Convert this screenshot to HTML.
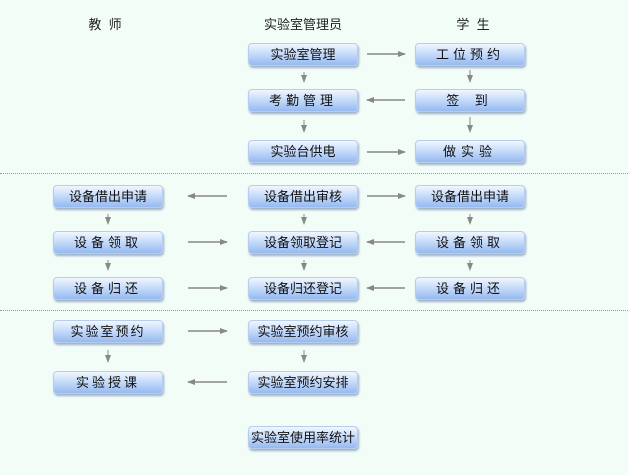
<!DOCTYPE html>
<html><head><meta charset="utf-8"><style>
body{margin:0;width:628px;height:475px;background:#f3fdf8;position:relative;overflow:hidden;font-family:"Liberation Sans","Noto Sans CJK SC",sans-serif;}
.h{position:absolute;top:14px;font-size:13px;color:#222;width:120px;text-align:center;}
.b{position:absolute;width:110px;height:23px;border-radius:4px;background:linear-gradient(#f0f6ff 0%,#c8dcfa 45%,#95b9f0 100%);box-shadow:1px 2px 2px rgba(70,100,150,.5);border:1px solid #b8cdee;box-sizing:border-box;font-size:13px;color:#111;text-align:center;line-height:22px;}
.dot{position:absolute;left:0;width:628px;border-top:1px dotted #999;}
svg{position:absolute;left:0;top:0;}
</style></head><body>
<div class="h" style="left:45px">教&nbsp;&nbsp;师</div>
<div class="h" style="left:243px">实验室管理员</div>
<div class="h" style="left:413px">学&nbsp;&nbsp;生</div>
<div class="dot" style="top:173px"></div>
<div class="dot" style="top:310px"></div>

<div class="b" style="left:248px;top:43px">实验室管理</div>
<div class="b" style="left:415px;top:43px;letter-spacing:4px">工位预约</div>
<div class="b" style="left:248px;top:89px;letter-spacing:4px">考勤管理</div>
<div class="b" style="left:415px;top:89px;letter-spacing:6px">签 到</div>
<div class="b" style="left:248px;top:140px">实验台供电</div>
<div class="b" style="left:415px;top:140px;letter-spacing:5px">做实验</div>

<div class="b" style="left:53px;top:185px">设备借出申请</div>
<div class="b" style="left:248px;top:185px">设备借出审核</div>
<div class="b" style="left:415px;top:185px">设备借出申请</div>
<div class="b" style="left:53px;top:231px;letter-spacing:4px">设备领取</div>
<div class="b" style="left:248px;top:231px">设备领取登记</div>
<div class="b" style="left:415px;top:231px;letter-spacing:4px">设备领取</div>
<div class="b" style="left:53px;top:277px;letter-spacing:4px">设备归还</div>
<div class="b" style="left:248px;top:277px">设备归还登记</div>
<div class="b" style="left:415px;top:277px;letter-spacing:4px">设备归还</div>

<div class="b" style="left:53px;top:320px;letter-spacing:2px">实验室预约</div>
<div class="b" style="left:248px;top:320px">实验室预约审核</div>
<div class="b" style="left:53px;top:371px;letter-spacing:3px">实验授课</div>
<div class="b" style="left:248px;top:371px">实验室预约安排</div>
<div class="b" style="left:248px;top:426px">实验室使用率统计</div>

<svg width="628" height="475" stroke="#888" fill="#888" stroke-width="1.5">
<defs><marker id="a" markerWidth="8" markerHeight="6" refX="7" refY="3" orient="auto" markerUnits="userSpaceOnUse"><path d="M0,0L8,3L0,6z" stroke="none"/></marker></defs>
<line x1="367" y1="54" x2="405" y2="54" marker-end="url(#a)"/>
<line x1="405" y1="100" x2="367" y2="100" marker-end="url(#a)"/>
<line x1="367" y1="152" x2="405" y2="152" marker-end="url(#a)"/>
<line x1="227" y1="196" x2="188" y2="196" marker-end="url(#a)"/>
<line x1="367" y1="196" x2="405" y2="196" marker-end="url(#a)"/>
<line x1="188" y1="242" x2="227" y2="242" marker-end="url(#a)"/>
<line x1="405" y1="242" x2="367" y2="242" marker-end="url(#a)"/>
<line x1="188" y1="288" x2="227" y2="288" marker-end="url(#a)"/>
<line x1="405" y1="288" x2="367" y2="288" marker-end="url(#a)"/>
<line x1="188" y1="331" x2="227" y2="331" marker-end="url(#a)"/>
<line x1="227" y1="382" x2="188" y2="382" marker-end="url(#a)"/>
<g stroke-width="1">
<line x1="304" y1="72" x2="304" y2="82" marker-end="url(#a)"/>
<line x1="304" y1="120" x2="304" y2="132" marker-end="url(#a)"/>
<line x1="470" y1="70" x2="470" y2="82" marker-end="url(#a)"/>
<line x1="470" y1="117" x2="470" y2="132" marker-end="url(#a)"/>
<line x1="108" y1="214" x2="108" y2="224" marker-end="url(#a)"/>
<line x1="304" y1="214" x2="304" y2="224" marker-end="url(#a)"/>
<line x1="470" y1="214" x2="470" y2="224" marker-end="url(#a)"/>
<line x1="108" y1="260" x2="108" y2="270" marker-end="url(#a)"/>
<line x1="304" y1="260" x2="304" y2="270" marker-end="url(#a)"/>
<line x1="470" y1="260" x2="470" y2="270" marker-end="url(#a)"/>
<line x1="108" y1="350" x2="108" y2="362" marker-end="url(#a)"/>
<line x1="304" y1="350" x2="304" y2="362" marker-end="url(#a)"/>
</g>
</svg>
</body></html>
